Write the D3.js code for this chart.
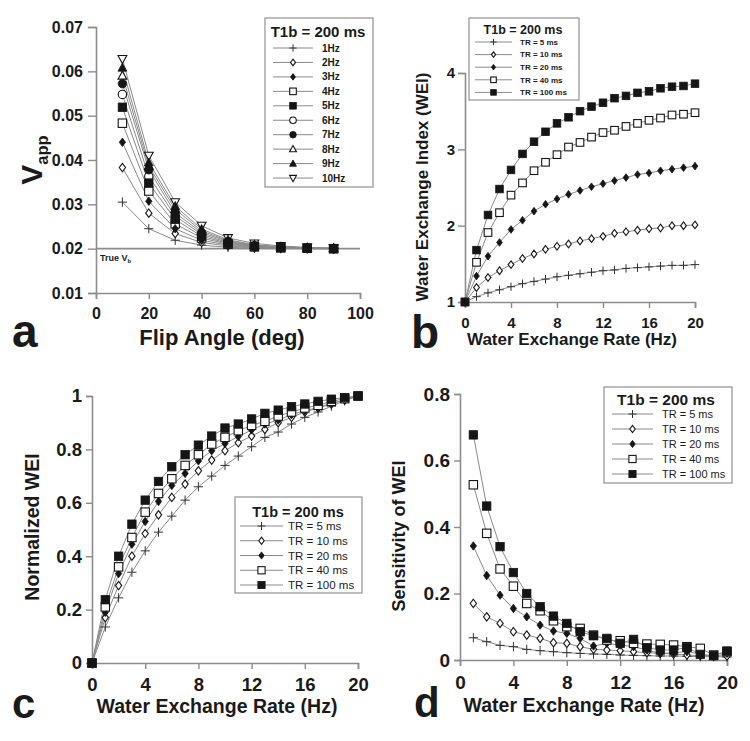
<!DOCTYPE html>
<html><head><meta charset="utf-8">
<script src="https://cdn.jsdelivr.net/npm/d3@7"></script>
<style>body{margin:0;background:#fff} svg{display:block} text{font-family:"Liberation Sans",Arial,sans-serif;fill:#1a1a1a}</style>
</head><body><svg id="chart" width="750" height="741"></svg>
<script>
// ---------- Panel a data ----------
const flipAngles = [10,20,30,40,50,60,70,80,90];
const freqLabels = ['1Hz','2Hz','3Hz','4Hz','5Hz','6Hz','7Hz','8Hz','9Hz','10Hz'];
const vapp1Hz  = [0.0305,0.0245,0.0219,0.0208,0.0203,0.0201,0.0200,0.0200,0.0200];
const vapp2Hz  = [0.0383,0.0280,0.0234,0.0214,0.0206,0.0202,0.0201,0.0200,0.0200];
const vapp3Hz  = [0.0440,0.0307,0.0245,0.0219,0.0208,0.0203,0.0201,0.0200,0.0200];
const vapp4Hz  = [0.0483,0.0330,0.0256,0.0224,0.0210,0.0204,0.0202,0.0201,0.0200];
const vapp5Hz  = [0.0519,0.0348,0.0266,0.0228,0.0212,0.0205,0.0202,0.0201,0.0200];
const vapp6Hz  = [0.0548,0.0363,0.0274,0.0232,0.0214,0.0206,0.0203,0.0201,0.0200];
const vapp7Hz  = [0.0572,0.0378,0.0281,0.0236,0.0216,0.0207,0.0203,0.0201,0.0200];
const vapp8Hz  = [0.0590,0.0386,0.0289,0.0240,0.0218,0.0208,0.0204,0.0202,0.0201];
const vapp9Hz  = [0.0608,0.0394,0.0296,0.0244,0.0220,0.0209,0.0204,0.0202,0.0201];
const vapp10Hz = [0.0628,0.0410,0.0305,0.0252,0.0224,0.0212,0.0206,0.0203,0.0201];
const trueVb = 0.02;
const aXTicks = [0,20,40,60,80,100];
const aYTicks = [0.01,0.02,0.03,0.04,0.05,0.06,0.07];

// ---------- Panels b, c, d data ----------
const exchangeRates = [0,1,2,3,4,5,6,7,8,9,10,11,12,13,14,15,16,17,18,19,20];
const trLabels = ['TR = 5 ms','TR = 10 ms','TR = 20 ms','TR = 40 ms','TR = 100 ms'];

const wei5   = [1,1.07,1.12,1.16,1.20,1.24,1.27,1.30,1.33,1.35,1.37,1.39,1.41,1.42,1.44,1.45,1.46,1.47,1.48,1.48,1.49];
const wei10  = [1,1.19,1.32,1.41,1.49,1.57,1.63,1.69,1.73,1.76,1.80,1.83,1.86,1.90,1.92,1.94,1.96,1.97,2.00,2.00,2.01];
const wei20  = [1,1.34,1.60,1.78,1.95,2.07,2.19,2.28,2.35,2.41,2.46,2.51,2.55,2.59,2.63,2.67,2.69,2.72,2.74,2.76,2.78];
const wei40  = [1,1.52,1.91,2.17,2.40,2.56,2.72,2.83,2.93,3.03,3.09,3.16,3.22,3.25,3.30,3.34,3.38,3.41,3.45,3.46,3.48];
const wei100 = [1,1.68,2.14,2.48,2.73,2.94,3.10,3.23,3.34,3.42,3.50,3.56,3.61,3.67,3.70,3.74,3.76,3.80,3.82,3.83,3.86];

const norm5   = [0,0.135,0.244,0.34,0.42,0.49,0.55,0.61,0.66,0.70,0.74,0.775,0.81,0.845,0.865,0.895,0.92,0.94,0.962,0.982,1];
const norm10  = [0,0.17,0.29,0.40,0.485,0.555,0.62,0.67,0.72,0.76,0.795,0.825,0.85,0.875,0.90,0.92,0.94,0.955,0.97,0.985,1];
const norm20  = [0,0.19,0.335,0.445,0.53,0.605,0.665,0.71,0.757,0.795,0.822,0.848,0.873,0.895,0.91,0.93,0.945,0.957,0.973,0.985,1];
const norm40  = [0,0.21,0.36,0.47,0.565,0.635,0.69,0.74,0.78,0.82,0.845,0.87,0.89,0.905,0.925,0.94,0.955,0.965,0.98,0.99,1];
const norm100 = [0,0.237,0.40,0.52,0.61,0.68,0.735,0.78,0.816,0.85,0.88,0.895,0.914,0.935,0.947,0.96,0.97,0.98,0.988,0.994,1];

const sensRates = [1,2,3,4,5,6,7,8,9,10,11,12,13,14,15,16,17,18,19,20];
const sens5   = [0.067,0.055,0.044,0.040,0.032,0.028,0.025,0.022,0.020,0.018,0.017,0.015,0.014,0.013,0.012,0.012,0.011,0.010,0.010,0.009];
const sens10  = [0.170,0.130,0.110,0.085,0.075,0.065,0.052,0.050,0.040,0.032,0.030,0.028,0.025,0.022,0.020,0.018,0.015,0.013,0.012,0.012];
const sens20  = [0.343,0.254,0.195,0.155,0.130,0.105,0.087,0.080,0.065,0.042,0.050,0.045,0.040,0.030,0.020,0.022,0.025,0.018,0.010,0.020];
const sens40  = [0.527,0.381,0.274,0.222,0.170,0.148,0.118,0.100,0.095,0.075,0.060,0.058,0.050,0.048,0.047,0.045,0.040,0.035,0.015,0.025];
const sens100 = [0.677,0.463,0.341,0.263,0.200,0.160,0.132,0.110,0.085,0.073,0.065,0.050,0.062,0.037,0.030,0.030,0.038,0.017,0.013,0.027];

const rateTicks = [0,4,8,12,16,20];
const bYTicks = [1,2,3,4];
const cYTicks = [0,0.2,0.4,0.6,0.8,1];
const dYTicks = [0,0.2,0.4,0.6,0.8];

const aMarkers = ['plus','diamondO','diamondF','squareO','squareF','circleO','circleF','triUpO','triUpF','triDownO'];
const trMarkers = ['plus','diamondO','diamondF','squareO','squareF'];

// ---------- drawing helpers ----------
const svg = d3.select('#chart');
const INK = '#151515', LINE = '#8a8a8a', AXIS = '#8c8c8c';

function marker(g, type, x, y, s) {
  const filled = type.endsWith('F');
  const fill = filled ? INK : '#fff';
  let el;
  if (type === 'plus') {
    g.append('path').attr('d', `M${x-s*1.1},${y}H${x+s*1.1}M${x},${y-s*1.1}V${y+s*1.1}`)
      .attr('stroke', '#333').attr('stroke-width', 1).attr('fill', 'none');
    return;
  }
  if (type.startsWith('diamond')) {
    const w = s*0.75, h = s*1.0;
    el = g.append('path').attr('d', `M${x},${y-h}L${x+w},${y}L${x},${y+h}L${x-w},${y}Z`);
  } else if (type.startsWith('square')) {
    el = g.append('rect').attr('x', x-s).attr('y', y-s).attr('width', 2*s).attr('height', 2*s);
  } else if (type.startsWith('circle')) {
    el = g.append('circle').attr('cx', x).attr('cy', y).attr('r', s);
  } else if (type.startsWith('triUp')) {
    el = g.append('path').attr('d', `M${x},${y-s*1.1}L${x+s*1.05},${y+s*0.8}L${x-s*1.05},${y+s*0.8}Z`);
  } else if (type.startsWith('triDown')) {
    el = g.append('path').attr('d', `M${x},${y+s*1.1}L${x+s*1.05},${y-s*0.8}L${x-s*1.05},${y-s*0.8}Z`);
  }
  el.attr('fill', fill).attr('stroke', INK).attr('stroke-width', filled ? 0.8 : 1.1);
}

function drawPanel(p) {
  const g = svg.append('g');
  const x = d3.scaleLinear().domain(p.xDomain).range(p.xRange);
  const y = d3.scaleLinear().domain(p.yDomain).range(p.yRange);

  const xa = g.append('g').attr('transform', `translate(0,${p.yRange[0]})`)
    .call(d3.axisBottom(x).tickValues(p.xTicks).tickSizeOuter(0).tickSize(6).tickPadding(p.xPad).tickFormat(d => String(d)));
  const ya = g.append('g').attr('transform', `translate(${p.xRange[0]},0)`)
    .call(d3.axisLeft(y).tickValues(p.yTicks).tickSizeOuter(0).tickSize(p.yTick || 6).tickPadding(p.yPad).tickFormat(p.yFmt || (d => String(d))));
  [xa, ya].forEach(a => {
    a.select('.domain').attr('stroke', AXIS).attr('stroke-width', 1.6);
    a.selectAll('.tick line').attr('stroke', AXIS).attr('stroke-width', 1.4);
    a.selectAll('.tick text').attr('font-size', p.tickFont).attr('font-weight', 'bold').attr('fill', '#1a1a1a')
      .style('font-family', '"Liberation Sans",Arial,sans-serif');
  });

  if (p.extra) p.extra(g, x, y);

  const line = d3.line().x(d => x(d[0])).y(d => y(d[1]));
  p.series.forEach(s => {
    const pts = p.xs.map((xv, i) => [xv, s.values[i]]);
    g.append('path').attr('d', line(pts)).attr('fill', 'none').attr('stroke', LINE).attr('stroke-width', 1);
  });
  const order = p.filledLast
    ? p.series.filter(s => !s.marker.endsWith('F')).concat(p.series.filter(s => s.marker.endsWith('F')))
    : p.series;
  order.forEach(s => {
    p.xs.forEach((xv, i) => marker(g, s.marker, x(xv), y(s.values[i]), p.ms));
  });

  // axis titles
  g.append('text').attr('x', p.xTitlePos[0]).attr('y', p.xTitlePos[1]).attr('text-anchor', 'middle')
    .attr('font-size', p.xTitleFont).attr('font-weight', 'bold').text(p.xTitle);
  const yt = g.append('text').attr('transform', `translate(${p.yTitlePos[0]},${p.yTitlePos[1]}) rotate(-90)`)
    .attr('text-anchor', 'middle').attr('font-size', p.yTitleFont).attr('font-weight', 'bold');
  if (p.yTitleSub) {
    yt.append('tspan').text(p.yTitle);
    yt.append('tspan').attr('font-size', p.yTitleFont * 0.55).attr('dy', p.yTitleFont * 0.2).text(p.yTitleSub);
  } else yt.text(p.yTitle);

  // panel letter
  g.append('text').attr('x', p.letterPos[0]).attr('y', p.letterPos[1]).attr('font-size', p.letterFont)
    .attr('font-weight', 'bold').attr('fill', '#111').text(p.letter);

  // legend
  const L = p.legend;
  const lg = g.append('g');
  lg.append('rect').attr('x', L.box[0]).attr('y', L.box[1]).attr('width', L.box[2] - L.box[0]).attr('height', L.box[3] - L.box[1])
    .attr('fill', '#fff').attr('stroke', '#9a9a9a').attr('stroke-width', 1.3);
  lg.append('text').attr('x', L.titleX).attr('y', L.titleY).attr('text-anchor', 'middle')
    .attr('font-size', L.titleFont).attr('font-weight', 'bold').text('T1b = 200 ms');
  p.series.forEach((s, i) => {
    const yy = L.y0 + i * L.dy;
    lg.append('line').attr('x1', L.lx[0]).attr('x2', L.lx[1]).attr('y1', yy).attr('y2', yy)
      .attr('stroke', LINE).attr('stroke-width', 1);
    marker(lg, s.marker, (L.lx[0] + L.lx[1]) / 2, yy, L.ms);
    lg.append('text').attr('x', L.tx).attr('y', yy).attr('dy', '0.35em').attr('font-size', L.font)
      .attr('font-weight', L.weight || 'bold').text(s.label);
  });
}

// ---------- Panel a ----------
const aVals = [vapp1Hz,vapp2Hz,vapp3Hz,vapp4Hz,vapp5Hz,vapp6Hz,vapp7Hz,vapp8Hz,vapp9Hz,vapp10Hz];
drawPanel({
  xDomain: [0,100], xRange: [96,360], yDomain: [0.01,0.07], yRange: [293,27],
  xTicks: aXTicks, yTicks: aYTicks, yFmt: d3.format('.2f'), tickFont: 16, xPad: 9, yPad: 5, yTick: 8,
  xs: flipAngles, filledLast: true,
  series: aVals.map((v, i) => ({values: v, marker: aMarkers[i], label: freqLabels[i]})),
  ms: 4.2,
  xTitle: 'Flip Angle (deg)', xTitlePos: [222,345], xTitleFont: 22,
  yTitle: 'V', yTitleSub: 'app', yTitlePos: [42,160], yTitleFont: 30,
  letter: 'a', letterPos: [12,347], letterFont: 46,
  extra: (g, x, y) => {
    g.append('line').attr('x1', x(0)).attr('x2', x(100)).attr('y1', y(trueVb)).attr('y2', y(trueVb))
      .attr('stroke', AXIS).attr('stroke-width', 1.6);
    const t = g.append('text').attr('x', 100).attr('y', 261).attr('font-size', 9).attr('font-weight', 'bold');
    t.append('tspan').text('True V');
    t.append('tspan').attr('font-size', 6).attr('dy', 2).text('b');
  },
  legend: {box: [265,18,373,187], titleX: 318, titleY: 37, titleFont: 15, y0: 48, dy: 14.45,
           lx: [273,313], tx: 322, font: 10, ms: 3.3}
});

// ---------- Panel b ----------
const bVals = [wei5, wei10, wei20, wei40, wei100];
drawPanel({
  xDomain: [0,20], xRange: [465,695], yDomain: [1,4], yRange: [302,73],
  xTicks: rateTicks, yTicks: bYTicks, tickFont: 15, xPad: 9, yPad: 3, yTick: 7,
  xs: exchangeRates,
  series: bVals.map((v, i) => ({values: v, marker: trMarkers[i], label: trLabels[i]})),
  ms: 3.8,
  xTitle: 'Water Exchange Rate (Hz)', xTitlePos: [572,345], xTitleFont: 17,
  yTitle: 'Water Exchange Index (WEI)', yTitlePos: [428,187], yTitleFont: 17,
  letter: 'b', letterPos: [411,348], letterFont: 46,
  legend: {box: [469,18,579,100], titleX: 523, titleY: 34, titleFont: 12.5, y0: 42, dy: 12.6,
           lx: [475,512], tx: 520, font: 8, ms: 2.8}
});

// ---------- Panel c ----------
const cVals = [norm5, norm10, norm20, norm40, norm100];
drawPanel({
  xDomain: [0,20], xRange: [92,358], yDomain: [0,1], yRange: [663,396],
  xTicks: rateTicks, yTicks: cYTicks, tickFont: 18.5, xPad: 9, yPad: 4, yTick: 6,
  xs: exchangeRates,
  series: cVals.map((v, i) => ({values: v, marker: trMarkers[i], label: trLabels[i]})),
  ms: 4.2,
  xTitle: 'Water Exchange Rate (Hz)', xTitlePos: [217,713], xTitleFont: 19.5,
  yTitle: 'Normalized WEI', yTitlePos: [39,527], yTitleFont: 19.5,
  letter: 'c', letterPos: [12,718], letterFont: 42,
  legend: {box: [235,497,362,593], titleX: 298, titleY: 517, titleFont: 14.5, y0: 526, dy: 14.75,
           lx: [240,283], tx: 288, font: 11.5, weight: 'normal', ms: 3.6}
});

// ---------- Panel d ----------
const dVals = [sens5, sens10, sens20, sens40, sens100];
drawPanel({
  xDomain: [0,20], xRange: [460,727], yDomain: [0,0.8], yRange: [660,394],
  xTicks: rateTicks, yTicks: dYTicks, tickFont: 19, xPad: 10, yPad: 4, yTick: 6,
  xs: sensRates,
  series: dVals.map((v, i) => ({values: v, marker: trMarkers[i], label: trLabels[i]})),
  ms: 4.2,
  xTitle: 'Water Exchange Rate (Hz)', xTitlePos: [584,712], xTitleFont: 19.5,
  yTitle: 'Sensitivity of WEI', yTitlePos: [405,536], yTitleFont: 18,
  letter: 'd', letterPos: [414,717], letterFont: 42,
  legend: {box: [604,387,732,483], titleX: 666, titleY: 405, titleFont: 15.5, y0: 414, dy: 15,
           lx: [612,653], tx: 662, font: 11, weight: 'normal', ms: 3.6}
});
</script>
</body></html>
